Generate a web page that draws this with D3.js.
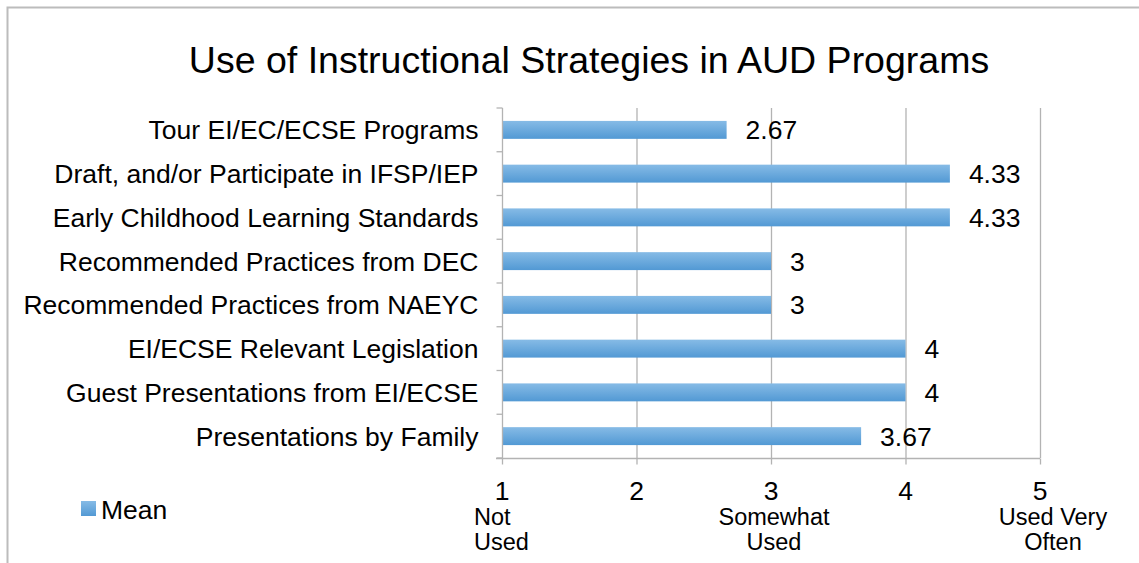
<!DOCTYPE html>
<html>
<head>
<meta charset="utf-8">
<script src="https://cdn.jsdelivr.net/npm/d3@7"></script>
<style>
  html, body { margin: 0; padding: 0; background: #fff; }
  svg { display: block; font-family: "Liberation Sans", Arial, sans-serif; }
</style>
</head>
<body>
<svg id="chart" width="1139" height="563"></svg>
<script>
const title = "Use of Instructional Strategies in AUD Programs";
const categories = [
  "Tour EI/EC/ECSE Programs",
  "Draft, and/or Participate in IFSP/IEP",
  "Early Childhood Learning Standards",
  "Recommended Practices from DEC",
  "Recommended Practices from NAEYC",
  "EI/ECSE Relevant Legislation",
  "Guest Presentations from EI/ECSE",
  "Presentations by Family"
];
const meanValues = [2.67, 4.33, 4.33, 3, 3, 4, 4, 3.67];
const valueLabels = ["2.67", "4.33", "4.33", "3", "3", "4", "4", "3.67"];
const xTicks = [1, 2, 3, 4, 5];
const xTickSubLabels = [["Not", "Used"], [], ["Somewhat", "Used"], [], ["Used Very", "Often"]];
const seriesName = "Mean";

(function () {
const svg = d3.select("#chart");
const W = 1139, H = 563;
const labelSize = 26.5;

const defs = svg.append("defs");
const grad = defs.append("linearGradient").attr("id", "barGrad")
  .attr("x1", 0).attr("y1", 0).attr("x2", 0).attr("y2", 1);
grad.append("stop").attr("offset", "0%").attr("stop-color", "#86bbe6");
grad.append("stop").attr("offset", "100%").attr("stop-color", "#5299d4");

// chart frame
svg.append("path")
  .attr("d", `M7.5,${H} L7.5,7.5 L${W},7.5`)
  .attr("fill", "none").attr("stroke", "#bcbcbc").attr("stroke-width", 2);

const pLeft = 502, pRight = 1040, pTop = 108, pBottom = 458;
const x = d3.scaleLinear().domain([1, 5]).range([pLeft, pRight]);
const y = d3.scaleBand().domain(categories).range([pTop, pBottom]).paddingInner(0.59).paddingOuter(0.295);
const yb = d3.scaleBand().domain(categories).range([pTop, pBottom]);

// title
svg.append("text").attr("x", 589).attr("y", 73).attr("text-anchor", "middle")
  .attr("font-size", 37.5).attr("fill", "#000").text(title);

// gridlines
svg.append("g").selectAll("line").data(xTicks.slice(1)).join("line")
  .attr("x1", d => x(d) + 0.5).attr("x2", d => x(d) + 0.5)
  .attr("y1", pTop).attr("y2", pBottom)
  .attr("stroke", "#b3b3b3").attr("stroke-width", 1.3);

// bars
svg.append("g").selectAll("rect").data(meanValues).join("rect")
  .attr("x", x(1) + 1)
  .attr("y", (d, i) => y(categories[i]))
  .attr("width", d => x(d) - x(1) - 1)
  .attr("height", y.bandwidth())
  .attr("fill", "url(#barGrad)");

// value labels
svg.append("g").selectAll("text").data(meanValues).join("text")
  .attr("x", d => x(d) + 19)
  .attr("y", (d, i) => y(categories[i]) + y.bandwidth() / 2)
  .attr("dy", "0.36em")
  .attr("font-size", labelSize).attr("fill", "#000")
  .text((d, i) => valueLabels[i]);

// y axis (left)
const yAxis = svg.append("g").attr("transform", `translate(${pLeft + 0.5},0)`);
yAxis.append("line").attr("x1", 0).attr("x2", 0).attr("y1", pTop).attr("y2", pBottom)
  .attr("stroke", "#b3b3b3").attr("stroke-width", 1.3);
const yBounds = categories.map(c => yb(c)).concat([pBottom]);
yAxis.selectAll("line.tick").data(yBounds).join("line").attr("class", "tick")
  .attr("x1", -6).attr("x2", 0).attr("y1", d => d).attr("y2", d => d)
  .attr("stroke", "#b3b3b3").attr("stroke-width", 1.3);
yAxis.selectAll("text").data(categories).join("text")
  .attr("x", -24).attr("y", d => y(d) + y.bandwidth() / 2).attr("dy", "0.36em")
  .attr("text-anchor", "end").attr("font-size", labelSize).attr("fill", "#000").text(d => d);

// x axis (bottom)
const xAxis = svg.append("g").attr("transform", `translate(0,${pBottom + 0.5})`);
xAxis.append("line").attr("x1", pLeft - 6).attr("x2", pRight).attr("y1", 0).attr("y2", 0)
  .attr("stroke", "#b3b3b3").attr("stroke-width", 1.3);
xAxis.selectAll("line.tick").data(xTicks).join("line").attr("class", "tick")
  .attr("x1", d => x(d) + 0.5).attr("x2", d => x(d) + 0.5).attr("y1", 0).attr("y2", 6)
  .attr("stroke", "#b3b3b3").attr("stroke-width", 1.3);
xAxis.selectAll("text.tl").data(xTicks).join("text").attr("class", "tl")
  .attr("x", d => x(d)).attr("y", 41).attr("text-anchor", "middle")
  .attr("font-size", labelSize).attr("fill", "#000").text(d => d);

const subOffsets = [-9, 0, 3, 0, 13];
xTicks.forEach((t, i) => {
  xTickSubLabels[i].forEach((line, j) => {
    const isFirst = i === 0;
    svg.append("text")
      .attr("x", isFirst ? x(t) - 28 : x(t) + subOffsets[i])
      .attr("y", 525 + j * 25)
      .attr("text-anchor", isFirst ? "start" : "middle")
      .attr("font-size", 23.5).attr("fill", "#000").text(line);
  });
});

// legend
const lg = svg.append("g");
lg.append("rect").attr("x", 81).attr("y", 501).attr("width", 15).attr("height", 15)
  .attr("fill", "url(#barGrad)");
lg.append("text").attr("x", 101).attr("y", 509).attr("dy", "0.36em")
  .attr("font-size", labelSize).attr("fill", "#000").text(seriesName);
})();
</script>
</body>
</html>
